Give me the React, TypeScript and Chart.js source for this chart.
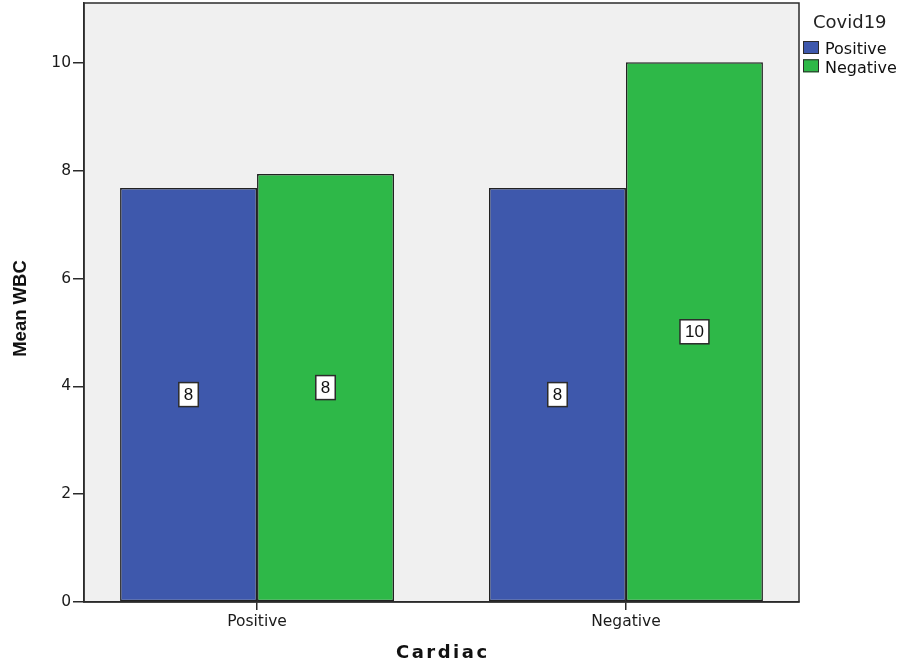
import React, { useEffect, useRef } from 'react';
import { Chart, registerables } from 'chart.js';

Chart.register(...registerables);

// ---- data ----
const categories = ['Positive', 'Negative'];
const seriesNames = ['Positive', 'Negative'];
const covidPositive = [7.68, 7.68];
const covidNegative = [7.94, 10.01];
const yTicks = [0, 2, 4, 6, 8, 10];
const legendTitle = 'Covid19';
const xTitle = 'Cardiac';
const yTitle = 'Mean WBC';
const seriesColors = ['#3e58ac', '#2eb848'];

const LINE = '#2b2b2b';

const decorPlugin: any = {
  id: 'decor',
  beforeDraw(chart: any) {
    const { ctx, chartArea: a } = chart;
    ctx.save();
    ctx.fillStyle = '#f0f0f0';
    ctx.fillRect(a.left, a.top, a.right - a.left, a.bottom - a.top);
    ctx.restore();
  },
  afterDatasetsDraw(chart: any) {
    const { ctx } = chart;
    ctx.save();
    chart.data.datasets.forEach((ds: any, di: number) => {
      const meta = chart.getDatasetMeta(di);
      meta.data.forEach((el: any, i: number) => {
        const v = ds.data[i].y;
        const text = String(Math.round(v));
        const p = el.getProps(['x', 'y', 'base'], true);
        const cy = (p.y + p.base) / 2;
        ctx.font = '17px "Liberation Sans", Arial, sans-serif';
        const w = ctx.measureText(text).width + 10;
        const h = 24;
        ctx.fillStyle = '#ffffff';
        ctx.fillRect(p.x - w / 2, cy - h / 2, w, h);
        ctx.strokeStyle = LINE;
        ctx.lineWidth = 1.5;
        ctx.strokeRect(p.x - w / 2, cy - h / 2, w, h);
        ctx.fillStyle = '#111';
        ctx.textAlign = 'center';
        ctx.textBaseline = 'middle';
        ctx.fillText(text, p.x, cy + 1);
      });
    });
    ctx.restore();
  },
  afterDraw(chart: any) {
    const { ctx, chartArea: a } = chart;
    ctx.save();
    // plot frame
    ctx.strokeStyle = LINE;
    ctx.lineWidth = 1.5;
    ctx.strokeRect(a.left, a.top, a.right - a.left, a.bottom - a.top);

    // y title
    ctx.save();
    ctx.translate(21, (a.top + a.bottom) / 2 + 6);
    ctx.rotate(-Math.PI / 2);
    ctx.font = 'bold 18.5px "Liberation Sans", Arial, sans-serif';
    ctx.fillStyle = '#111';
    ctx.textAlign = 'center';
    ctx.textBaseline = 'middle';
    ctx.fillText(yTitle, 0, 0);
    ctx.restore();

    // x title
    ctx.save();
    (ctx as any).letterSpacing = '2.5px';
    ctx.font = 'bold 18px "DejaVu Sans", sans-serif';
    ctx.fillStyle = '#111';
    ctx.textAlign = 'center';
    ctx.textBaseline = 'alphabetic';
    ctx.fillText(xTitle, (a.left + a.right) / 2 + 1.25, 658);
    ctx.restore();

    // legend
    const lx = a.right + 4;
    ctx.font = '18px "DejaVu Sans", sans-serif';
    ctx.fillStyle = '#222';
    ctx.textAlign = 'left';
    ctx.textBaseline = 'alphabetic';
    ctx.fillText(legendTitle, lx + 10, 28);
    seriesNames.forEach((name, i) => {
      const y0 = 41 + i * 18.3;
      ctx.fillStyle = seriesColors[i];
      ctx.fillRect(lx, y0, 16, 13);
      ctx.strokeStyle = LINE;
      ctx.lineWidth = 1;
      ctx.strokeRect(lx + 0.5, y0 + 0.5, 15, 12);
      ctx.fillStyle = '#111';
      ctx.font = '16px "DejaVu Sans", sans-serif';
      ctx.fillText(name, lx + 22, y0 + 13.3);
    });
    ctx.restore();
  },
};

export default function App() {
  const canvasRef = useRef<HTMLCanvasElement | null>(null);

  useEffect(() => {
    const canvas = canvasRef.current;
    if (!canvas) return;
    const datasets = [covidPositive, covidNegative].map((vals, si) => ({
      label: seriesNames[si],
      data: categories.map((_, i) => ({ x: i, y: vals[i] })),
      backgroundColor: seriesColors[si],
      borderColor: '#222',
      borderWidth: 1.5,
      borderSkipped: false,
      categoryPercentage: 0.7425,
      barPercentage: 1,
    }));
    const tickFont = { family: '"DejaVu Sans", sans-serif', size: 15.5 };
    const chart = new Chart(canvas, {
      type: 'bar',
      data: { datasets } as any,
      options: {
        responsive: false,
        animation: false,
        layout: { padding: { left: 0, top: 3, right: 101, bottom: 0 } },
        plugins: { legend: { display: false }, tooltip: { enabled: false } },
        scales: {
          x: {
            type: 'linear',
            min: -0.469,
            max: 1.469,
            offset: false,
            afterBuildTicks: (s: any) => {
              s.ticks = categories.map((_, i) => ({ value: i }));
            },
            afterFit: (s: any) => {
              s.height = 65;
              s.paddingLeft = 0;
              s.paddingRight = 0;
            },
            ticks: {
              callback: (v: any) => categories[v] ?? '',
              font: tickFont,
              color: '#1a1a1a',
              padding: 3,
              autoSkip: false,
              maxRotation: 0,
            },
            grid: {
              offset: false,
              drawOnChartArea: false,
              drawTicks: true,
              tickLength: 8,
              color: LINE,
              lineWidth: 1.5,
            },
            border: { display: true, color: LINE, width: 1.5 },
          },
          y: {
            min: 0,
            max: 11.11,
            afterBuildTicks: (s: any) => {
              s.ticks = yTicks.map((v) => ({ value: v }));
            },
            afterFit: (s: any) => {
              s.width = 84;
              s.paddingTop = 0;
              s.paddingBottom = 0;
            },
            ticks: { font: tickFont, color: '#1a1a1a', padding: 2 },
            grid: {
              drawOnChartArea: false,
              drawTicks: true,
              tickLength: 11,
              color: LINE,
              lineWidth: 1.5,
            },
            border: { display: true, color: LINE, width: 1.5 },
          },
        },
      } as any,
      plugins: [decorPlugin],
    });
    return () => chart.destroy();
  }, []);

  return (
    <div style={{ position: 'absolute', left: 0, top: 0, width: 900, height: 667, background: '#fff' }}>
      <canvas ref={canvasRef} width={900} height={667} style={{ display: 'block' }} />
    </div>
  );
}
